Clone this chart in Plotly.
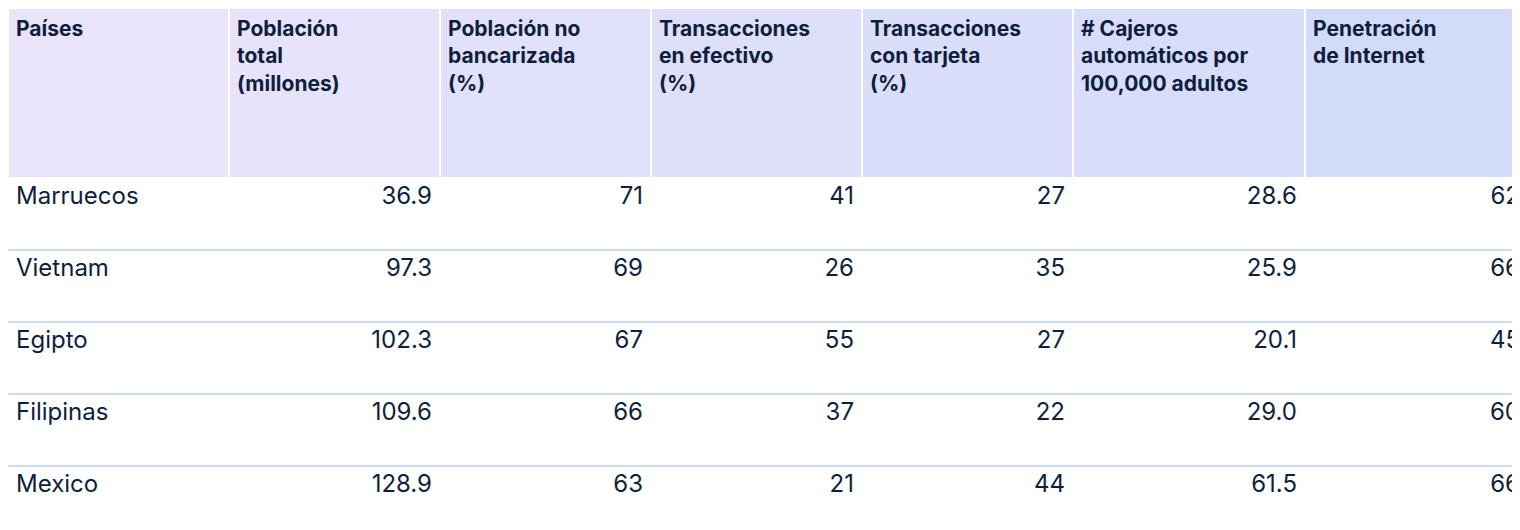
import plotly.graph_objects as go

headers = ["<br><br>Países", "<br>Población<br>total<br>(millones)", "<br>Población no<br>bancarizada<br>(%)",
           "<br>Transacciones<br>en efectivo<br>(%)", "<br>Transacciones<br>con tarjeta<br>(%)",
           "<br># Cajeros<br>automáticos por<br>100,000 adultos", "<br>Penetración<br>de Internet"]
paises = ["Marruecos", "Vietnam", "Egipto", "Filipinas", "Mexico"]
poblacion = ["36.9", "97.3", "102.3", "109.6", "128.9"]
no_bancarizada = ["71", "69", "67", "66", "63"]
efectivo = ["41", "26", "55", "37", "21"]
tarjeta = ["27", "35", "27", "22", "44"]
cajeros = ["28.6", "25.9", "20.1", "29.0", "61.5"]
internet = ["62", "66", "45", "60", "66"]

hdr_fill = ["#EAE4FB", "#E6E3FB", "#E2E1FB", "#DEDFFB", "#DADEFB", "#D7DDFB", "#D3DBFB"]
widths = [221, 211, 211, 211, 211, 232, 223]
ink = "#0F1E3D"

fig = go.Figure(go.Table(
    columnwidth=widths,
    header=dict(values=["<b>%s</b>" % h for h in headers], fill_color=hdr_fill,
                line=dict(color="white", width=2), align="left", height=170,
                font=dict(family="Inter", size=21, color=ink)),
    cells=dict(values=[paises, poblacion, no_bancarizada, efectivo, tarjeta, cajeros, internet],
               fill_color="white", line=dict(color="white", width=0),
               align=["left"] + ["right"] * 6, height=72,
               font=dict(family="Inter", size=24, color=ink)),
    domain=dict(x=[0, 1], y=[0, 1]),
))
shapes = []
for i in range(1, 5):
    y = 1 - (170 + 72 * i) / 530
    shapes.append(dict(type="line", xref="paper", yref="paper", x0=0, x1=1, y0=y, y1=y,
                       line=dict(color="#C9DDF7", width=2)))
fig.update_layout(width=1520, height=530, margin=dict(l=0, r=0, t=0, b=0),
                  paper_bgcolor="white", shapes=shapes)
fig.write_html("out.html")
